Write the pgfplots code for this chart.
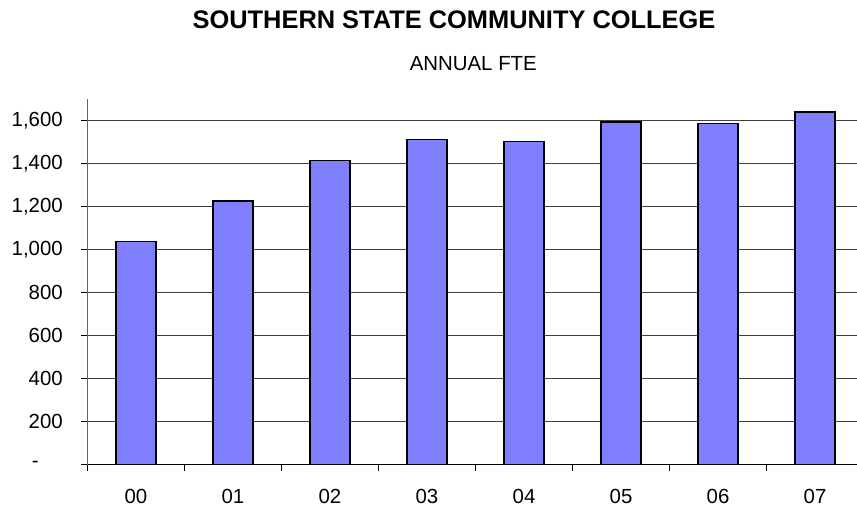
\documentclass[border=0pt]{standalone}
\usepackage{fontspec}
\setmainfont{Liberation Sans}
\usepackage{pgfplots}
\pgfplotsset{compat=1.18}
\definecolor{barblue}{HTML}{8080FF}
\definecolor{gridgray}{HTML}{404040}

\begin{document}
\begin{tikzpicture}
\begin{axis}[
    at={(87.5bp,46.3bp)}, anchor=south west,
    scale only axis,
    width=776bp, height=365.7bp,
    xmin=-0.5, xmax=7.5,
    ymin=0, ymax=1700,
    axis x line*=bottom,
    axis y line*=left,
    x axis line style={black, line width=0.9bp},
    y axis line style={black!60, line width=1bp},
    xtick={-0.5,0.5,...,7.5},
    x tick label as interval,
    xticklabels={00,01,02,03,04,05,06,07},
    ytick={0,200,...,1600},
    yticklabels={{-\hbox to 24bp{}},200,400,600,800,{1,000},{1,200},{1,400},{1,600}},
    tick align=outside,
    major tick length=6.5bp,
    tick style={black, line width=0.8bp},
    ymajorgrids,
    grid style={gridgray, line width=0.8bp},
    ticklabel style={font=\fontsize{20.5}{24}\selectfont},
    yticklabel style={anchor=east, inner sep=0pt, xshift=-18bp},
    xticklabel style={anchor=north, inner sep=0pt, yshift=-18bp},
    ybar, bar width=40bp,
]
\addplot[fill=barblue, draw=black, line width=1.2bp] coordinates {
    (0,1037) (1,1226) (2,1414) (3,1513) (4,1504) (5,1593) (6,1585) (7,1640)
};
\end{axis}
\node[anchor=base, font=\fontsize{25.5}{30}\selectfont\bfseries] at (454bp,482bp) {SOUTHERN STATE COMMUNITY COLLEGE};
\node[anchor=base, font=\fontsize{20.5}{24}\selectfont] at (473.3bp,440.3bp) {ANNUAL FTE};
\pgfresetboundingbox
\useasboundingbox (0,0) rectangle (857bp,511bp);
\end{tikzpicture}
\end{document}
